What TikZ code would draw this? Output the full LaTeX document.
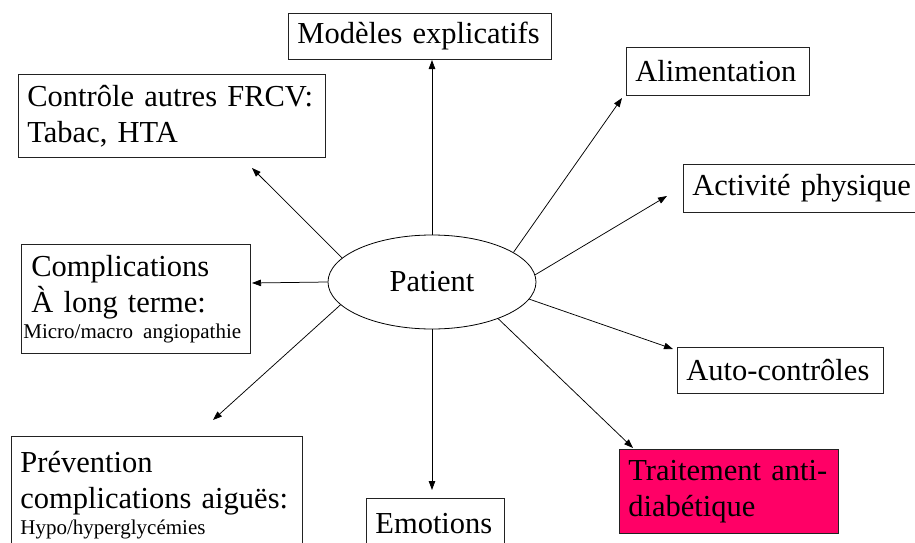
\documentclass[tikz,border=0pt]{standalone}
\usepackage{fontspec}
\setmainfont{Liberation Serif}
\usepackage{xcolor}
\usetikzlibrary{arrows.meta, shapes.geometric}
\newcommand{\boxfont}{\fontsize{30.5}{36}\selectfont}
\newcommand{\notefont}{\fontsize{21}{26}\selectfont}
\definecolor{trtred}{HTML}{FF0066}
\definecolor{boxink}{HTML}{222222}

\begin{document}
\begin{tikzpicture}[
  x=1pt, y=-1pt,
  topic/.style={
    draw=boxink,
    line width=0.8pt,
    anchor=north west,
    align=left,
    inner xsep=9pt,
    inner ysep=0pt,
    font=\boxfont
  },
  cuttopic/.style={topic, inner ysep=15pt},
  hub/.style={
    ellipse,
    draw=black,
    line width=0.8pt,
    minimum width=208pt,
    minimum height=94pt,
    inner sep=0pt,
    font=\boxfont
  },
  link/.style={-{Triangle[length=9pt, width=6.5pt]}, line width=0.75pt}
]
\useasboundingbox (0,0) rectangle (915,543);

% centre
\node[hub] (patient) at (432,282) {Patient};

% boxes round the patient
\node[topic, text width=245pt, minimum height=46pt] (modeles) at (288,13) {Modèles explicatifs};
\node[topic, text width=165pt, minimum height=48pt] (alim) at (626,47) {Alimentation};
\node[topic, text width=289pt, minimum height=83pt] (controle) at (18,74) {Contrôle autres FRCV:\\Tabac, HTA};
\node[topic, text width=227pt, minimum height=48pt] (activite) at (683,164) {Activité physique};
\node[topic, inner xsep=10pt, text width=209pt, minimum height=109pt] (complic) at (21,244)
  {Complications\\À long terme:\par{\notefont\hspace*{-8pt}\mbox{Micro/macro angiopathie}\par}};
\node[topic, text width=188pt, minimum height=46pt] (autoctrl) at (677,347) {Auto-contrôles};
\node[cuttopic, text width=273pt] (prevention) at (11,436)
  {Prévention\\complications aiguës:\par{\notefont Hypo/hyperglycémies\par}};
\node[cuttopic, text width=120pt] (emotions) at (366,498) {Emotions};
\node[topic, fill=trtred, text width=201pt, minimum height=84pt] (traitement) at (619,449) {Traitement anti-\\diabétique};

% arrow tips
\coordinate (modeles-tip) at (432,60);
\coordinate (alim-tip) at (622,98);
\coordinate (activite-tip) at (667,196);
\coordinate (autoctrl-tip) at (673,349);
\coordinate (traitement-tip) at (633,448);
\coordinate (emotions-tip) at (432,490);
\coordinate (prevention-tip) at (213,420);
\coordinate (complic-tip) at (252,283);
\coordinate (controle-tip) at (252,168);

% connectors
\draw[link] (patient.north) -- (modeles-tip);
\draw[link] (patient.20) -- (alim-tip);
\draw[link] (patient.4) -- (activite-tip);
\draw[link] (patient.-10) -- (autoctrl-tip);
\draw[link] (patient.-29) -- (traitement-tip);
\draw[link] (patient.south) -- (emotions-tip);
\draw[link] (patient.194) -- (prevention-tip);
\draw[link] (patient.180) -- (complic-tip);
\draw[link] (patient.165) -- (controle-tip);

\end{tikzpicture}
\end{document}
